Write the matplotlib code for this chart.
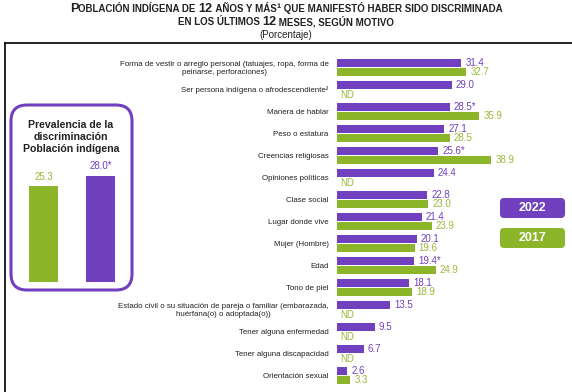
import matplotlib
matplotlib.use("Agg")
import matplotlib.pyplot as plt
import matplotlib.patches as mpatches
from matplotlib.lines import Line2D
from matplotlib.transforms import IdentityTransform
from matplotlib.offsetbox import TextArea, HPacker, AnnotationBbox
from matplotlib import font_manager
import numpy as np

plt.rcParams['font.family'] = ['Liberation Sans', 'DejaVu Sans']
names = set(f.name for f in font_manager.fontManager.ttflist)
NARROW = ['Liberation Sans Narrow', 'Liberation Sans'] if 'Liberation Sans Narrow' in names else ['Liberation Sans']

# data
categories = [
    "Forma de vestir o arreglo personal (tatuajes, ropa, forma de\npeinarse, perforaciones)",
    "Ser persona indígena o afrodescendiente²",
    "Manera de hablar",
    "Peso o estatura",
    "Creencias religiosas",
    "Opiniones políticas",
    "Clase social",
    "Lugar donde vive",
    "Mujer (Hombre)",
    "Edad",
    "Tono de piel",
    "Estado civil o su situación de pareja o familiar (embarazada,\nhuérfana(o) o adoptada(o))",
    "Tener alguna enfermedad",
    "Tener alguna discapacidad",
    "Orientación sexual",
]
v2022 = [31.4, 29.0, 28.5, 27.1, 25.6, 24.4, 22.8, 21.4, 20.1, 19.4, 18.1, 13.5, 9.5, 6.7, 2.6]
v2017 = [32.7, None, 35.9, 28.5, 38.9, None, 23.0, 23.9, 19.6, 24.9, 18.9, None, None, None, 3.3]
star2022 = [False, False, True, False, True, False, False, False, False, True, False, False, False, False, False]

prev_years = ["2017", "2022"]
prev_vals = [25.3, 28.0]
prev_labels = ["25.3", "28.0*"]

PURPLE = "#7040BE"
GREEN = "#8DB52A"
GREEN_TXT = "#9AB83A"

W, H = 572, 392
fig = plt.figure(figsize=(W / 100, H / 100), dpi=100)


def px(x0, y0, w, h):
    # pixel box (top-left origin) -> figure fraction rect
    return [x0 / W, 1 - (y0 + h) / H, w / W, h / H]


# title in small caps
def smallcaps(s, y, big=9.2, small=7.0):
    runs = []
    for ch in s:
        isbig = ch.isupper() or ch.isdigit()
        if runs and runs[-1][1] == isbig:
            runs[-1][0] += ch
        else:
            runs.append([ch, isbig])
    kids = [TextArea(t.upper(), textprops=dict(size=big if b else small, weight='bold', color='#222222'))
            for t, b in runs]
    box = HPacker(children=kids, align='baseline', pad=0, sep=0)
    ab = AnnotationBbox(box, (0.5, y), xycoords='figure fraction', frameon=False,
                        box_alignment=(0.5, 0.5), pad=0)
    fig.add_artist(ab)


smallcaps("Población indígena de 12 años y más¹ que manifestó haber sido discriminada", 1 - 9 / H)
smallcaps("en los últimos 12 meses, según motivo", 1 - 22 / H)
fig.text(0.5, 1 - 35 / H, "(Porcentaje)", ha='center', va='center', fontsize=7, color='#222222')

# frame
fig.add_artist(Line2D([5, W], [H - 43, H - 43], color='black', lw=1.2, transform=IdentityTransform()))
fig.add_artist(Line2D([5, 5], [H - 43, 0], color='black', lw=1.2, transform=IdentityTransform()))

# main bar chart
n = len(categories)
ax = fig.add_axes(px(337, 56.5, 200, 22 * n))
y = np.arange(n)
h = 0.4
off = 0.205
ax.barh(y - off, v2022, height=h, color=PURPLE)
g = [v if v is not None else 0 for v in v2017]
ax.barh(y + off, g, height=h, color=GREEN)
for i in range(n):
    lab = f"{v2022[i]:.1f}" + ("*" if star2022[i] else "")
    ax.annotate(lab, (v2022[i], y[i] - off), xytext=(3, 0), textcoords='offset points',
                va='center', ha='left', fontsize=7, color=PURPLE, family=NARROW)
    if v2017[i] is None:
        ax.annotate("ND", (0, y[i] + off), xytext=(2, -1), textcoords='offset points',
                    va='center', ha='left', fontsize=7, color=GREEN_TXT, family=NARROW)
    else:
        ax.annotate(f"{v2017[i]:.1f}", (v2017[i], y[i] + off), xytext=(3, 0), textcoords='offset points',
                    va='center', ha='left', fontsize=7, color=GREEN_TXT, family=NARROW)
ax.set_xlim(0, 200 / 3.96)
ax.set_ylim(n - 0.5, -0.5)
ax.set_yticks(y)
ax.set_yticklabels(categories, fontsize=5.7, color='#222222')
for t in ax.get_yticklabels():
    t.set_multialignment('center')
ax.tick_params(axis='y', length=0, pad=6)
ax.set_xticks([])
for s in ax.spines.values():
    s.set_visible(False)

# legend boxes
for yy, txt, col in [(198, "2022", PURPLE), (228, "2017", GREEN)]:
    fig.add_artist(mpatches.FancyBboxPatch((500, H - yy - 20), 65, 20,
                                           boxstyle="round,pad=0,rounding_size=4",
                                           fc=col, ec='none', transform=IdentityTransform()))
    fig.text(532.5 / W, 1 - (yy + 10) / H, txt, ha='center', va='center',
             fontsize=9, weight='bold', color='white')

# prevalence panel
fig.add_artist(mpatches.FancyBboxPatch((11, H - 290), 121, 185,
                                       boxstyle="round,pad=0,rounding_size=16",
                                       fc='none', ec=PURPLE, lw=2.2, transform=IdentityTransform()))
fig.text(71 / W, 1 - 137 / H, "Prevalencia de la\ndiscriminación\nPoblación indígena",
         ha='center', va='center', fontsize=7.6, weight='bold', color='#222222', linespacing=1.3)
ax2 = fig.add_axes(px(15, 282 - 122, 114, 122))
ax2.bar([0, 1], prev_vals, width=0.51, color=[GREEN, PURPLE])
for i, (v, lab) in enumerate(zip(prev_vals, prev_labels)):
    ax2.annotate(lab, (i, v), xytext=(0, 3), textcoords='offset points', ha='center', va='bottom',
                 fontsize=7, color=[GREEN_TXT, PURPLE][i], family=NARROW)
ax2.set_xlim(-0.5, 1.5)
ax2.set_ylim(0, 122 / 3.8)
ax2.axis('off')

fig.savefig("out.png", dpi=100)
